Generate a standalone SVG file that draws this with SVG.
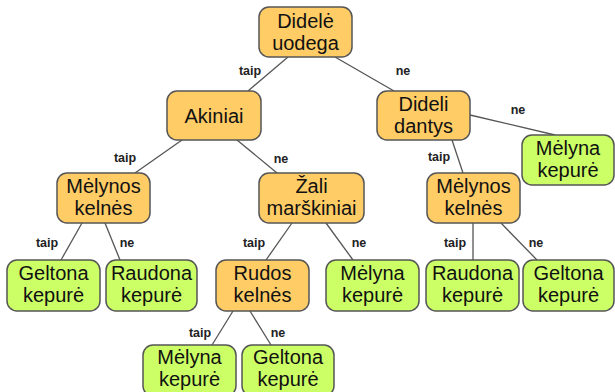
<svg xmlns="http://www.w3.org/2000/svg" width="615" height="392" viewBox="0 0 615 392">
<style>
.q{fill:#FFCC66;stroke:#555;stroke-width:1.5}
.l{fill:#CCFF66;stroke:#555;stroke-width:1.5}
.t{font-family:"Liberation Sans",Arial,sans-serif;font-size:20px;fill:#111;text-anchor:middle}
.e{stroke:#555;stroke-width:1.3;fill:none}
.lb{font-family:"Liberation Sans",Arial,sans-serif;font-size:12.5px;font-weight:bold;fill:#222;text-anchor:middle}
</style>
<rect width="615" height="392" fill="#fff"/>
<g id="connectors">
<line class="e" x1="288" y1="57" x2="248" y2="91"/>
<line class="e" x1="335" y1="57" x2="394" y2="91"/>
<line class="e" x1="182" y1="140" x2="135" y2="173"/>
<line class="e" x1="237" y1="140" x2="277" y2="173"/>
<line class="e" x1="470" y1="115" x2="555" y2="135"/>
<line class="e" x1="452" y1="140" x2="463" y2="173"/>
<line class="e" x1="82" y1="223" x2="61" y2="260"/>
<line class="e" x1="105" y1="223" x2="120" y2="260"/>
<line class="e" x1="292" y1="223" x2="266" y2="260"/>
<line class="e" x1="326" y1="223" x2="353" y2="260"/>
<line class="e" x1="473" y1="223" x2="473" y2="260"/>
<line class="e" x1="501" y1="223" x2="537" y2="260"/>
<line class="e" x1="233" y1="311" x2="212" y2="345"/>
<line class="e" x1="250" y1="311" x2="271" y2="345"/>
<text class="lb" x="250" y="75">taip</text>
<text class="lb" x="403" y="75">ne</text>
<text class="lb" x="125" y="162">taip</text>
<text class="lb" x="281" y="163">ne</text>
<text class="lb" x="518" y="114">ne</text>
<text class="lb" x="439" y="161">taip</text>
<text class="lb" x="47" y="247">taip</text>
<text class="lb" x="127" y="247">ne</text>
<text class="lb" x="254" y="247">taip</text>
<text class="lb" x="359" y="247">ne</text>
<text class="lb" x="455" y="247">taip</text>
<text class="lb" x="536" y="247">ne</text>
<text class="lb" x="200" y="337">taip</text>
<text class="lb" x="278" y="337">ne</text>
</g>
<g id="n-root"><rect class="q" x="259" y="7" width="93" height="50" rx="10"/><text class="t" x="305.5" y="28">Didelė</text><text class="t" x="305.5" y="50">uodega</text></g>
<g id="n-akiniai"><rect class="q" x="167" y="91" width="94" height="49" rx="10"/><text class="t" x="214" y="122.5">Akiniai</text></g>
<g id="n-dantys"><rect class="q" x="377" y="91" width="93" height="49" rx="10"/><text class="t" x="423.5" y="111">Dideli</text><text class="t" x="423.5" y="133">dantys</text></g>
<g id="n-leaf1"><rect class="l" x="522" y="135" width="92" height="50" rx="10"/><text class="t" x="568" y="155">Mėlyna</text><text class="t" x="568" y="177">kepurė</text></g>
<g id="n-kelnes1"><rect class="q" x="57" y="173" width="93" height="50" rx="10"/><text class="t" x="103.5" y="193">Mėlynos</text><text class="t" x="103.5" y="215">kelnės</text></g>
<g id="n-zali"><rect class="q" x="259" y="173" width="105" height="50" rx="10"/><text class="t" x="311.5" y="193">Žali</text><text class="t" x="311.5" y="215">marškiniai</text></g>
<g id="n-kelnes2"><rect class="q" x="427" y="173" width="93" height="50" rx="10"/><text class="t" x="473.5" y="193">Mėlynos</text><text class="t" x="473.5" y="215">kelnės</text></g>
<g id="n-leaf2"><rect class="l" x="7" y="260" width="93" height="51" rx="10"/><text class="t" x="53.5" y="280">Geltona</text><text class="t" x="53.5" y="302">kepurė</text></g>
<g id="n-leaf3"><rect class="l" x="106" y="260" width="91" height="51" rx="10"/><text class="t" x="151.5" y="280">Raudona</text><text class="t" x="151.5" y="302">kepurė</text></g>
<g id="n-rudos"><rect class="q" x="216" y="260" width="93" height="51" rx="10"/><text class="t" x="262.5" y="280">Rudos</text><text class="t" x="262.5" y="302">kelnės</text></g>
<g id="n-leaf4"><rect class="l" x="326" y="260" width="93" height="51" rx="10"/><text class="t" x="372.5" y="280">Mėlyna</text><text class="t" x="372.5" y="302">kepurė</text></g>
<g id="n-leaf5"><rect class="l" x="426" y="260" width="93" height="51" rx="10"/><text class="t" x="472.5" y="280">Raudona</text><text class="t" x="472.5" y="302">kepurė</text></g>
<g id="n-leaf6"><rect class="l" x="523" y="260" width="91" height="51" rx="10"/><text class="t" x="568.5" y="280">Geltona</text><text class="t" x="568.5" y="302">kepurė</text></g>
<g id="n-leaf7"><rect class="l" x="143" y="345" width="93" height="51" rx="10"/><text class="t" x="189.5" y="364">Mėlyna</text><text class="t" x="189.5" y="386">kepurė</text></g>
<g id="n-leaf8"><rect class="l" x="242" y="345" width="92" height="51" rx="10"/><text class="t" x="288" y="364">Geltona</text><text class="t" x="288" y="386">kepurė</text></g>
</svg>
